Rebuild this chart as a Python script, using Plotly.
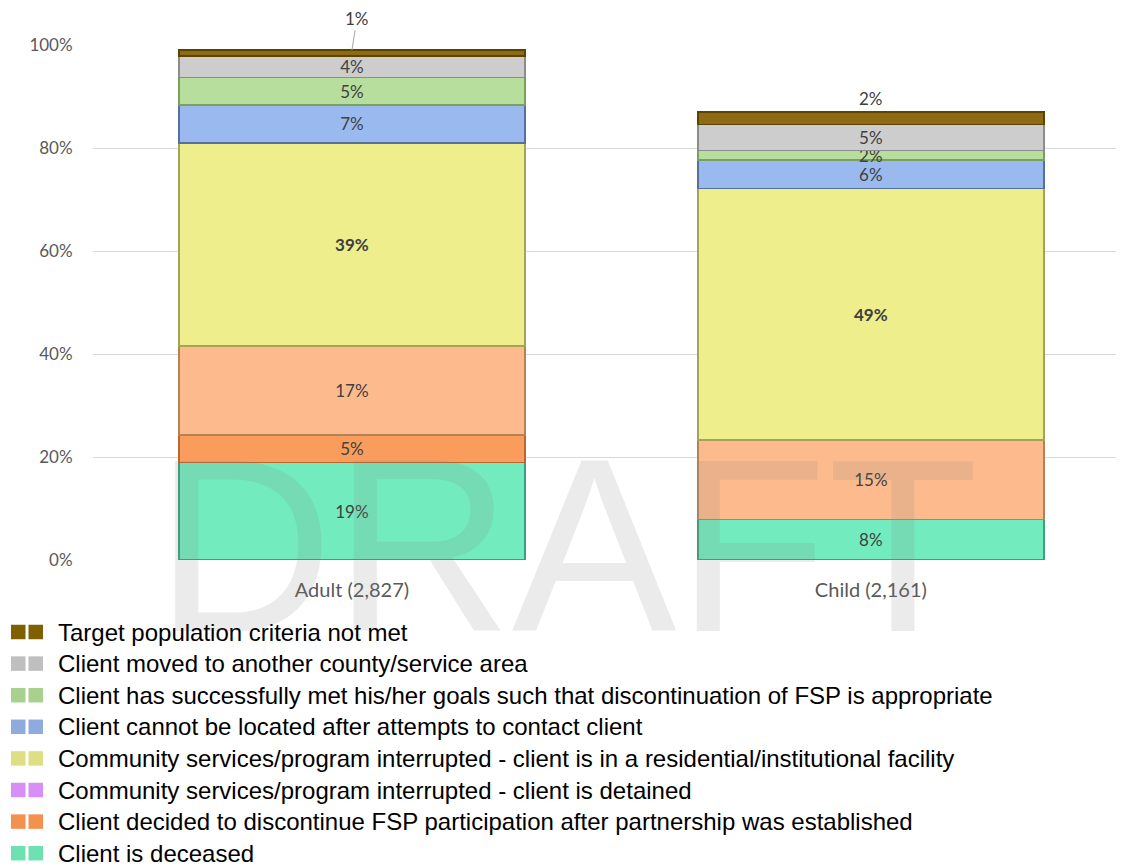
import plotly.graph_objects as go

# ---------------- data ----------------
categories = ["Adult (2,827)", "Child (2,161)"]

# stacking order: bottom -> top
series_names = [
    "Client is deceased",
    "Client decided to discontinue FSP participation after partnership was established",
    "Community services/program interrupted - client is detained",
    "Community services/program interrupted - client is in a residential/institutional facility",
    "Client cannot be located after attempts to contact client",
    "Client has successfully met his/her goals such that discontinuation of FSP is appropriate",
    "Client moved to another county/service area",
    "Target population criteria not met",
]
adult_values = [0.189, 0.054, 0.173, 0.394, 0.074, 0.053, 0.042, 0.011]
child_values = [0.079, 0.000, 0.154, 0.488, 0.056, 0.018, 0.051, 0.024]

bar_colors = ["#72ecbf", "#fa9c5c", "#fdbb8d", "#eeee8c", "#9ab9ef", "#b7de9c", "#cdcdcd", "#8d6b12"]
bar_edge_colors = ["#3f9e7b", "#b8672f", "#b58258", "#a3a35a", "#55709c", "#78a15d", "#8c8c8c", "#5c4400"]
legend_colors = ["#6de2b0", "#f4914f", "#d78ef7", "#dede82", "#8faadc", "#a9d18e", "#bfbfbf", "#7f6000"]
bold_series = ["Community services/program interrupted - client is in a residential/institutional facility"]

y_tick_values = [0, 0.2, 0.4, 0.6, 0.8, 1.0]
y_tick_labels = ["0%", "20%", "40%", "60%", "80%", "100%"]

watermark_text = "DRAFT"

# ---------------- layout geometry ----------------
OFF = 8  # page offset of the figure inside the browser window
W, H = 1124 - OFF, 865 - OFF
PLOT_LEFT, PLOT_RIGHT, PLOT_TOP, PLOT_BOTTOM = 93, 1122, 45, 560  # screen pixels
ML = PLOT_LEFT - OFF
MR = W - (PLOT_RIGHT - OFF)
MT = PLOT_TOP - OFF
MB = H - (PLOT_BOTTOM - OFF)
PW = PLOT_RIGHT - PLOT_LEFT
PH = PLOT_BOTTOM - PLOT_TOP


def px_x(px):
    return (px - PLOT_LEFT) / PW


def px_y(py):
    return (PLOT_BOTTOM - py) / PH


def pct(v):
    return f"{round(v * 100)}%"


fig = go.Figure()
top_index = len(series_names) - 1
for i, name in enumerate(series_names):
    vals = [adult_values[i], child_values[i]]
    if i == top_index:
        texts = ["", ""]
    else:
        texts = []
        for v in vals:
            if v <= 0:
                texts.append("")
            elif name in bold_series:
                texts.append(f"<b>{pct(v)}</b>")
            else:
                texts.append(pct(v))
    fig.add_trace(go.Bar(
        x=categories,
        y=vals,
        name=name,
        marker=dict(color=bar_colors[i], line=dict(color=bar_edge_colors[i], width=1.6)),
        text=texts,
        textposition="inside",
        insidetextanchor="middle",
        textangle=0,
        constraintext="none",
        textfont=dict(family="Lato", size=17, color="#404040"),
        hoverinfo="skip",
        showlegend=False,
    ))

annotations = []
# watermark (drawn first so other texts sit over it)
annotations.append(dict(
    text=watermark_text, xref="paper", yref="paper",
    x=px_x(566), y=px_y(545), xanchor="center", yanchor="middle",
    showarrow=False,
    font=dict(family="Liberation Sans, Arial", size=247, color="rgba(128,128,128,0.16)"),
))

# labels on top of the stacks
adult_total = sum(adult_values)
child_total = sum(child_values)
annotations.append(dict(
    x=categories[0], y=adult_total, xref="x", yref="y",
    text=pct(adult_values[top_index]), showarrow=True, arrowhead=0,
    arrowcolor="#a6a6a6", arrowwidth=1, ax=5, ay=-32, standoff=0,
    font=dict(family="Lato", size=17, color="#404040"),
))
annotations.append(dict(
    x=categories[1], y=child_total, xref="x", yref="y",
    text=pct(child_values[top_index]), showarrow=False, yanchor="middle", yshift=13,
    font=dict(family="Lato", size=17, color="#404040"),
))

# custom legend (top series first)
shapes = []
row0, row_gap, sq = 632, 31.6, 14.5
for k, i in enumerate(range(len(series_names) - 1, -1, -1)):
    cy = row0 + k * row_gap
    for x0 in (11, 28.5):
        shapes.append(dict(
            type="rect", xref="paper", yref="paper",
            x0=px_x(x0), x1=px_x(x0 + sq), y0=px_y(cy + sq / 2), y1=px_y(cy - sq / 2),
            fillcolor=legend_colors[i], line=dict(width=0),
        ))
    annotations.append(dict(
        text=series_names[i], xref="paper", yref="paper",
        x=px_x(56), y=px_y(cy), xanchor="left", yanchor="middle", showarrow=False,
        font=dict(family="Liberation Sans, Arial", size=24, color="#000000"),
    ))

fig.update_layout(
    width=W, height=H,
    margin=dict(l=ML, r=MR, t=MT, b=MB),
    barmode="stack",
    bargap=0.333,
    plot_bgcolor="white",
    paper_bgcolor="white",
    uniformtext=dict(minsize=17, mode="show"),
    annotations=annotations,
    shapes=shapes,
    showlegend=False,
    xaxis=dict(
        range=[-0.499, 1.484], showgrid=False, zeroline=False, showline=False,
        ticks="outside", ticklen=12, tickcolor="rgba(0,0,0,0)",
        tickfont=dict(family="Lato", size=20, color="#595959"),
    ),
    yaxis=dict(
        range=[0, 1.0], tickvals=y_tick_values, ticktext=y_tick_labels,
        showgrid=True, gridcolor="#d9d9d9", gridwidth=1, zeroline=False, showline=False,
        ticks="outside", ticklen=16, tickcolor="rgba(0,0,0,0)",
        tickfont=dict(family="Lato", size=17, color="#595959"),
    ),
)

fig.write_html("out.html")
